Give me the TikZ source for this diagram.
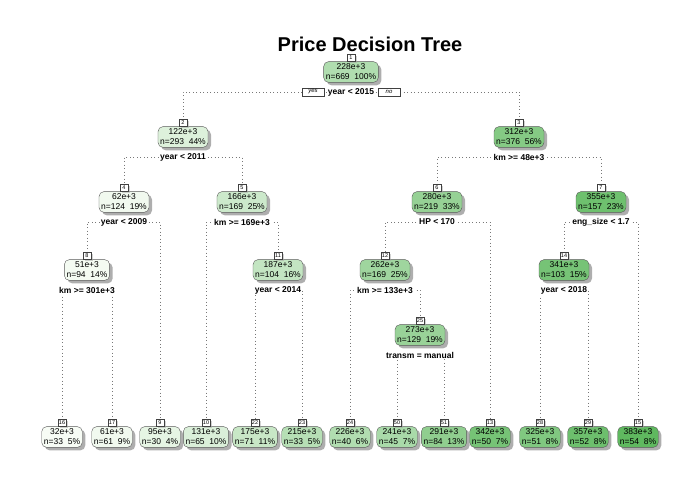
\documentclass[tikz,border=0pt]{standalone}
\usepackage{fontspec}
\setmainfont{Liberation Sans}
\usetikzlibrary{shadows,backgrounds}
\definecolor{gLo}{RGB}{247,252,245}
\definecolor{gHi}{RGB}{95,185,95}
\definecolor{lineg}{RGB}{120,120,120}
\tikzset{
 tbox/.style={draw=black!65, rounded corners=5pt, align=center, font=\fontsize{8.5}{10}\selectfont, inner xsep=2.2pt, inner ysep=2.4pt, drop shadow={shadow xshift=3pt, shadow yshift=-3pt, fill=black!45, opacity=0.7}},
 tnum/.style={draw=black!75, fill=white, font=\fontsize{5.5}{6}\selectfont, inner xsep=1pt, inner ysep=0.5pt, minimum height=7pt, minimum width=7.5pt, drop shadow={shadow xshift=2pt, shadow yshift=-1.5pt, fill=black!35}},
 tsplit/.style={fill=white, font=\bfseries\fontsize{8.5}{10}\selectfont, inner xsep=1pt, inner ysep=1pt},
 tyn/.style={draw=black!75, fill=white, font=\itshape\fontsize{6}{6}\selectfont, minimum width=22pt, minimum height=7.5pt, inner sep=0pt},
 conn/.style={draw=lineg, line width=0.7pt, dash pattern=on 0.7pt off 2.8pt},
}
\newcommand\TN[7]{%
 \node[tbox, fill=gHi!#7!gLo] (#1) at (#2,#3) {#5\\n=#6};
 \node[tnum, anchor=south] (#1n) at (#1.north) {#4};}
\begin{document}
\begin{tikzpicture}[x=1pt,y=-1pt]
\useasboundingbox (0,0) rectangle (700,500);
\node[font=\bfseries\fontsize{20}{24}\selectfont] (title) at (370,44) {Price Decision Tree};
\TN{b1}{351}{72}{1}{228e+3}{669\ \ 100\%}{47}
\TN{b2}{183}{137}{2}{122e+3}{293\ \ 44\%}{17}
\TN{b3}{519}{137}{3}{312e+3}{376\ \ 56\%}{75}
\TN{b4}{124}{202}{4}{62e+3}{124\ \ 19\%}{4}
\TN{b5}{242}{202}{5}{166e+3}{169\ \ 25\%}{28}
\TN{b6}{437}{202}{6}{280e+3}{219\ \ 33\%}{64}
\TN{b7}{601}{202}{7}{355e+3}{157\ \ 23\%}{90}
\TN{b8}{87}{270}{8}{51e+3}{94\ \ 14\%}{2}
\TN{b11}{278}{270}{11}{187e+3}{104\ \ 16\%}{34}
\TN{b12}{385}{270}{12}{262e+3}{169\ \ 25\%}{58}
\TN{b14}{564}{270}{14}{341e+3}{103\ \ 15\%}{85}
\TN{b25}{420}{335}{25}{273e+3}{129\ \ 19\%}{62}
\TN{b16}{62}{437}{16}{32e+3}{33\ \ 5\%}{0}
\TN{b17}{112}{437}{17}{61e+3}{61\ \ 9\%}{4}
\TN{b9}{160}{437}{9}{95e+3}{30\ \ 4\%}{11}
\TN{b10}{206}{437}{10}{131e+3}{65\ \ 10\%}{19}
\TN{b22}{255}{437}{22}{175e+3}{71\ \ 11\%}{31}
\TN{b23}{302}{437}{23}{215e+3}{33\ \ 5\%}{43}
\TN{b24}{350}{437}{24}{226e+3}{40\ \ 6\%}{46}
\TN{b50}{397}{437}{50}{241e+3}{45\ \ 7\%}{51}
\TN{b51}{444}{437}{51}{291e+3}{84\ \ 13\%}{68}
\TN{b13}{490}{437}{13}{342e+3}{50\ \ 7\%}{85}
\TN{b28}{540}{437}{28}{325e+3}{51\ \ 8\%}{78}
\TN{b29}{588}{437}{29}{357e+3}{52\ \ 8\%}{91}
\TN{b15}{638}{437}{15}{383e+3}{54\ \ 8\%}{100}
\node[tsplit] (s1) at (351,92) {year < 2015};
\node[tsplit] (s2) at (183,157) {year < 2011};
\node[tsplit] (s3) at (519,157) {km >= 48e+3};
\node[tsplit] (s4) at (124,222) {year < 2009};
\node[tsplit] (s5) at (242,222) {km >= 169e+3};
\node[tsplit] (s6) at (437,222) {HP < 170};
\node[tsplit] (s7) at (601,222) {eng\_size < 1.7};
\node[tsplit] (s8) at (87,290) {km >= 301e+3};
\node[tsplit] (s11) at (278,290) {year < 2014};
\node[tsplit] (s12) at (385,290) {km >= 133e+3};
\node[tsplit] (s14) at (564,290) {year < 2018};
\node[tsplit] (s25) at (420,355) {transm = manual};
\node[tyn] (yes) at (313,92) {yes};
\node[tyn] (no) at (389,92) {no};
\begin{pgfonlayer}{background}
\draw[conn] (s1.center) -| (b2n.north);
\draw[conn] (s1.center) -| (b3n.north);
\draw[conn] (s2.center) -| (b4n.north);
\draw[conn] (s2.center) -| (b5n.north);
\draw[conn] (s3.center) -| (b6n.north);
\draw[conn] (s3.center) -| (b7n.north);
\draw[conn] (s4.center) -| (b8n.north);
\draw[conn] (s4.center) -| (b9n.north);
\draw[conn] (s5.center) -| (b10n.north);
\draw[conn] (s5.center) -| (b11n.north);
\draw[conn] (s6.center) -| (b12n.north);
\draw[conn] (s6.center) -| (b13n.north);
\draw[conn] (s7.center) -| (b14n.north);
\draw[conn] (s7.center) -| (b15n.north);
\draw[conn] (s8.center) -| (b16n.north);
\draw[conn] (s8.center) -| (b17n.north);
\draw[conn] (s11.center) -| (b22n.north);
\draw[conn] (s11.center) -| (b23n.north);
\draw[conn] (s12.center) -| (b24n.north);
\draw[conn] (s12.center) -| (b25n.north);
\draw[conn] (s14.center) -| (b28n.north);
\draw[conn] (s14.center) -| (b29n.north);
\draw[conn] (s25.center) -| (b50n.north);
\draw[conn] (s25.center) -| (b51n.north);
\end{pgfonlayer}
\end{tikzpicture}
\end{document}
